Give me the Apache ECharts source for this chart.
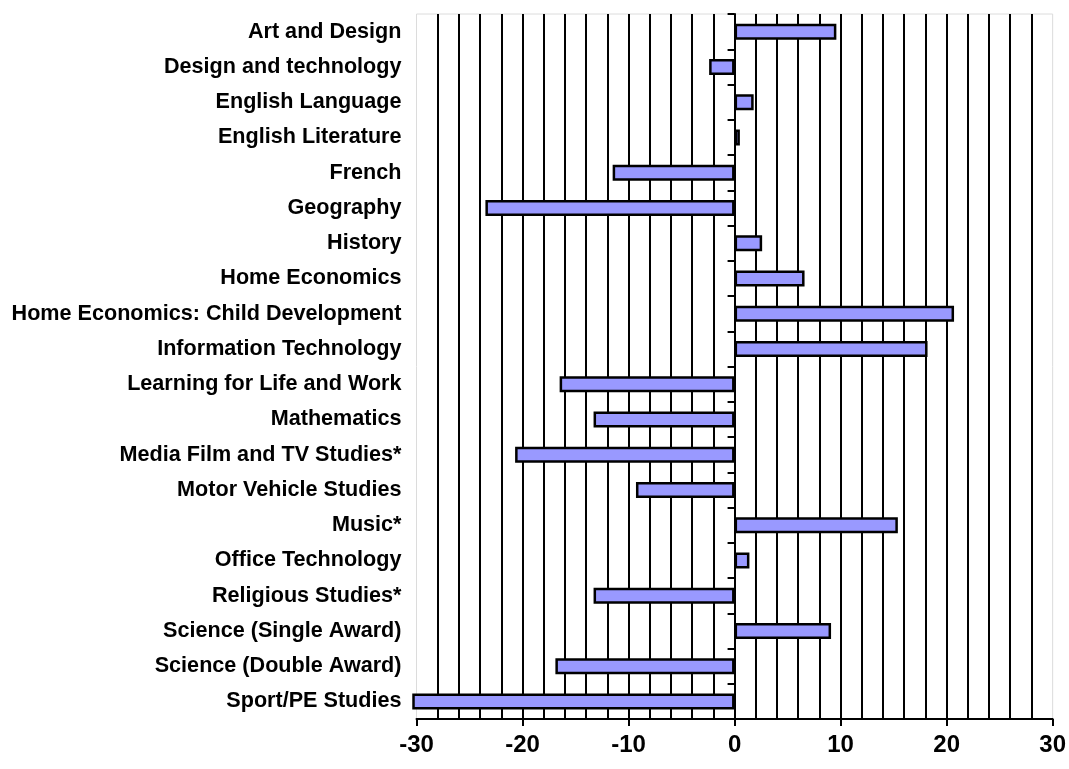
<!DOCTYPE html>
<html>
<head>
<meta charset="utf-8">
<script src="https://cdn.jsdelivr.net/npm/echarts@6/dist/echarts.min.js"></script>
<style>html,body{margin:0;padding:0;background:#fff;}#c{width:1069px;height:769px;}</style>
</head>
<body>
<div id="c"></div>
<script>
const categories = [
  "Art and Design",
  "Design and technology",
  "English Language",
  "English Literature",
  "French",
  "Geography",
  "History",
  "Home Economics",
  "Home Economics: Child Development",
  "Information Technology",
  "Learning for Life and Work",
  "Mathematics",
  "Media Film and TV Studies*",
  "Motor Vehicle Studies",
  "Music*",
  "Office Technology",
  "Religious Studies*",
  "Science (Single Award)",
  "Science (Double Award)",
  "Sport/PE Studies"
];
const values = [9.6, -2.4, 1.8, 0.5, -11.5, -23.5, 2.6, 6.6, 20.7, 18.2, -16.5, -13.3, -20.7, -9.3, 15.4, 1.4, -13.3, 9.1, -16.9, -30.4];
const xMin = -30, xMax = 30, xStep = 10;

const chart = echarts.init(document.getElementById('c'), null, {renderer: 'canvas'});
chart.setOption({
  animation: false,
  backgroundColor: '#ffffff',
  grid: {left: 416.5, right: 15, top: 14, bottom: 50, containLabel: false,
         show: true, borderColor: '#dcdcdc', borderWidth: 1},
  xAxis: {
    type: 'value', min: xMin, max: xMax, interval: xStep,
    axisLine: {show: true, onZero: false, lineStyle: {color: '#000', width: 2}},
    axisTick: {show: true, length: 7, inside: false, lineStyle: {color: '#000', width: 2}},
    axisLabel: {color: '#000', fontSize: 24, fontWeight: 'bold', fontFamily: 'Liberation Sans, Arial, sans-serif', margin: 14},
    splitLine: {show: true, showMinLine: false, showMaxLine: false, lineStyle: {color: '#000', width: 2}},
    minorTick: {show: false, splitNumber: 5},
    minorSplitLine: {show: true, lineStyle: {color: '#000', width: 2}}
  },
  yAxis: [
    {
      type: 'category', data: categories, inverse: true,
      axisLine: {show: true, onZero: true, lineStyle: {color: '#000', width: 2}},
      axisTick: {show: true, length: 7, lineStyle: {color: '#000', width: 2}},
      axisLabel: {show: false},
      splitLine: {show: false}
    },
    {
      type: 'category', data: categories, inverse: true, position: 'left',
      axisLine: {show: false}, axisTick: {show: false},
      axisLabel: {color: '#000', fontSize: 21.6, fontWeight: 'bold', fontFamily: 'Liberation Sans, Arial, sans-serif', margin: 15},
      splitLine: {show: false}
    }
  ],
  series: [{
    type: 'bar', data: values, yAxisIndex: 0, barWidth: 16, clip: false,
    itemStyle: {color: '#9999FF', borderColor: '#000', borderWidth: 2.5},
    z: 3
  }]
});
</script>
</body>
</html>
